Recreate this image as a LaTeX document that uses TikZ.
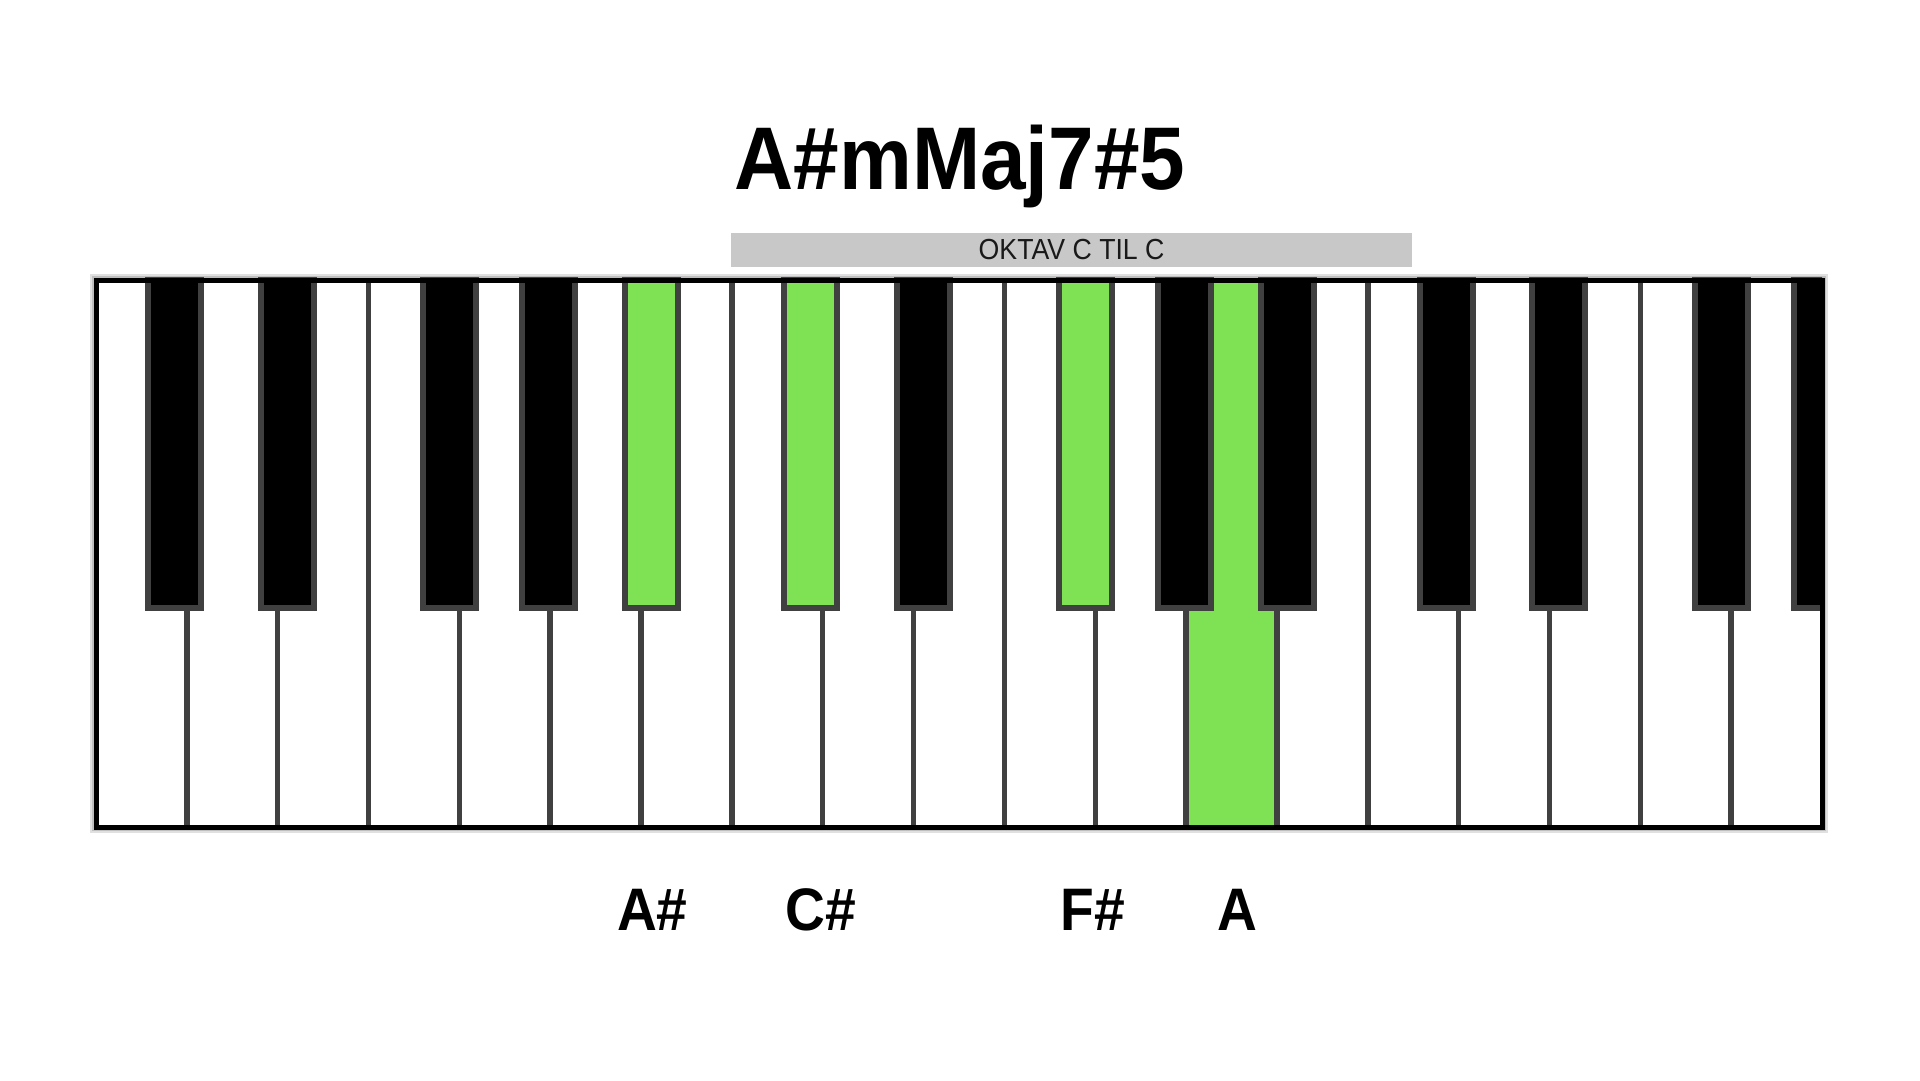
\documentclass[tikz,border=0pt]{standalone}
\usepackage{fontspec}
\setmainfont{Liberation Sans}
\newfontfamily\helc[FakeStretch=0.92]{Liberation Sans}
\definecolor{keygreen}{RGB}{127,226,84}
\definecolor{edgegray}{RGB}{64,64,64}
\definecolor{bargray}{RGB}{200,200,200}
\begin{document}
\begin{tikzpicture}[x=1pt,y=-1pt,
  divider/.style={draw=edgegray,line width=5.5pt},
  bkey/.style={draw=edgegray,line width=6pt},
  frameline/.style={draw=black,line width=5pt},
  notelabel/.style={font=\helc\bfseries\fontsize{60}{65}\selectfont,inner sep=0pt,anchor=base}]
\useasboundingbox (0,0) rectangle (1920,1080);
\fill[white] (0,0) rectangle (1920,1080);
% soft shadow of keyboard frame
\draw[black!12,line width=12pt] (96,280) rectangle (1822,827);
\draw[black!25,line width=8pt] (96,280) rectangle (1822,827);
% white keys
\fill[white] (96,280) rectangle (1822,827);
\fill[keygreen] ({96+12*90.84},280) rectangle ({96+13*90.84},827);
\foreach \k in {1,...,18}
  \draw[divider] ({96+\k*90.84},280) -- ({96+\k*90.84},827);
% black keys
\begin{scope}
\clip (96,277) rectangle (1822,830);
\foreach \k/\o/\c in {1/-12.5/black,2/9.5/black,4/-10/black,5/-1.5/black,6/10.5/keygreen,
  8/-12.5/keygreen,9/9.5/black,11/-10/keygreen,12/-1.5/black,13/10.5/black,
  15/-12.5/black,16/9.5/black,18/-10/black,19/-1.5/black}
  \draw[bkey,fill=\c] ({96+\k*90.84+\o-26.5},280) rectangle ({96+\k*90.84+\o+26.5},608);
\end{scope}
% frame
\draw[frameline] (96,280) rectangle (1822,827);
% title and octave bar
\node[font=\helc\bfseries\fontsize{89}{95}\selectfont,inner sep=0pt,anchor=base] (title) at (960,189.5) {A\#mMaj7\#5};
\node[fill=bargray,minimum width=681pt,minimum height=33.4pt,inner sep=0pt,
  font=\helc\fontsize{29}{32}\selectfont,text=black!90] (octave) at (1071.6,250) {OKTAV C TIL C};
% note labels
\node[notelabel] (lAs) at (652.4,930.5) {A\#};
\node[notelabel] (lCs) at (821,930.5) {C\#};
\node[notelabel] (lFs) at (1092.8,930.5) {F\#};
\node[notelabel] (lA) at (1237.5,930.5) {A};
\end{tikzpicture}
\end{document}
